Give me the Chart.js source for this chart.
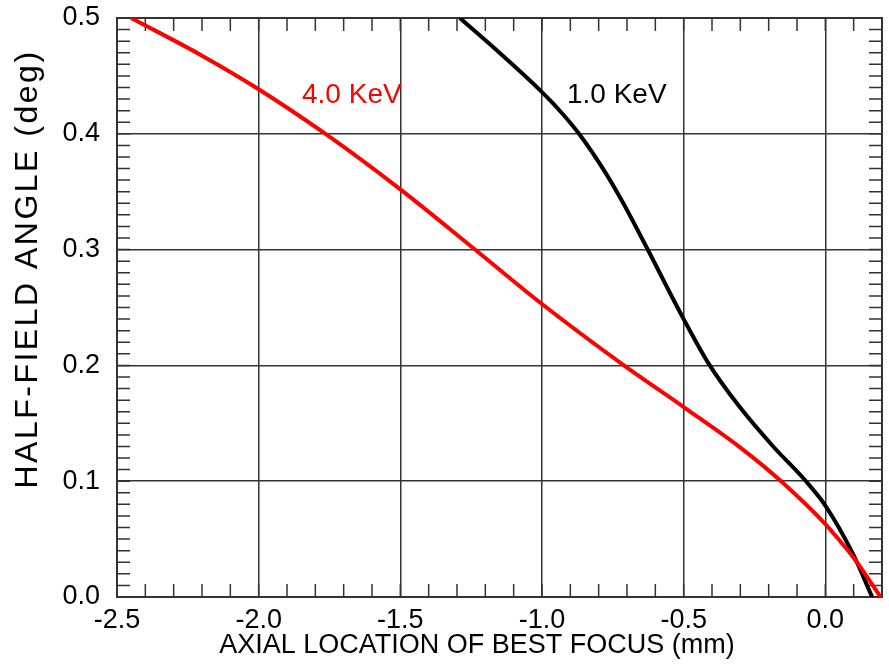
<!DOCTYPE html>
<html>
<head>
<meta charset="utf-8">
<script src="https://cdn.jsdelivr.net/npm/chart.js@4/dist/chart.umd.min.js"></script>
<style>
  html, body { margin: 0; padding: 0; background: #fff; }
  #wrap { width: 889px; height: 664px; }
</style>
</head>
<body>
<div id="wrap"><canvas id="focusChart" width="889" height="664"></canvas></div>
<script>
// --- Eixos
const xTicks = [-2.5, -2.0, -1.5, -1.0, -0.5, 0.0];
const yTicks = [0.0, 0.1, 0.2, 0.3, 0.4, 0.5];
const xTitle = "AXIAL LOCATION OF BEST FOCUS (mm)";
const yTitle = "HALF-FIELD ANGLE (deg)";

// --- Curva 4.0 KeV
const kev4Label = "4.0 KeV";
const kev4X = [-2.45, -2.2, -2.0, -1.759, -1.5, -1.241, -1.0, -0.711, -0.5, -0.3, -0.161, 0.0, 0.053, 0.098, 0.195];
const kev4Y = [0.5, 0.4675, 0.4385, 0.399, 0.352, 0.301, 0.253, 0.2, 0.164, 0.129, 0.101, 0.063, 0.048, 0.0345, 0.0];

// --- Curva 1.0 KeV
const kev1Label = "1.0 KeV";
const kev1X = [-1.29, -1.15, -1.0, -0.93, -0.866, -0.78, -0.713, -0.631, -0.5, -0.413, -0.302, -0.184, -0.072, 0.0, 0.098, 0.165];
const kev1Y = [0.5, 0.47, 0.436, 0.418, 0.399, 0.368, 0.34, 0.302, 0.24, 0.202, 0.164, 0.13, 0.101, 0.079, 0.037, 0.0];

const toPoints = (xs, ys) => xs.map((x, i) => ({ x: x, y: ys[i] }));

Chart.defaults.font.family = '"Liberation Sans", Arial, Helvetica, sans-serif';
Chart.defaults.color = "#000";

// --- Moldura, ticks menores, títulos e rótulos das curvas
const frameExtras = {
    id: "frameExtras",
    beforeDatasetsDraw(chart) {
        const { ctx, chartArea: a, scales: { x, y } } = chart;
        ctx.save();
        ctx.strokeStyle = "#333";
        ctx.lineWidth = 1.5;
        ctx.beginPath();
        for (let i = -25; i <= 2; i++) {
            const px = x.getPixelForValue(i / 10);
            ctx.moveTo(px, a.bottom); ctx.lineTo(px, a.bottom - 13);
            ctx.moveTo(px, a.top); ctx.lineTo(px, a.top + 13);
        }
        for (let i = 0; i <= 50; i++) {
            const py = y.getPixelForValue(i / 100);
            ctx.moveTo(a.left, py); ctx.lineTo(a.left + 13, py);
            ctx.moveTo(a.right, py); ctx.lineTo(a.right - 13, py);
        }
        ctx.stroke();
        ctx.lineWidth = 2;
        ctx.strokeRect(a.left, a.top, a.right - a.left, a.bottom - a.top);
        ctx.restore();
    },
    afterDatasetsDraw(chart) {
        const { ctx, scales: { x, y } } = chart;
        ctx.save();
        ctx.textBaseline = "alphabetic";
        ctx.textAlign = "left";
        ctx.font = '28px "Liberation Sans", Arial, sans-serif';
        ctx.fillStyle = "#ff0000";
        ctx.fillText(kev4Label, x.getPixelForValue(-1.847), y.getPixelForValue(0.4266));
        ctx.fillStyle = "#000";
        ctx.fillText(kev1Label, x.getPixelForValue(-0.912), y.getPixelForValue(0.4266));

        // títulos dos eixos
        ctx.textAlign = "center";
        ctx.textBaseline = "middle";
        ctx.font = '27px "Liberation Sans", Arial, sans-serif';
        ctx.fillText(xTitle, 477, 646);
        ctx.translate(28, 269);
        ctx.rotate(-Math.PI / 2);
        ctx.font = '32px "Liberation Sans", Arial, sans-serif';
        ctx.letterSpacing = "2.5px";
        ctx.fillText(yTitle, 0, 0);
        ctx.restore();
    }
};

const ctx = document.getElementById("focusChart").getContext("2d");
new Chart(ctx, {
    type: "line",
    data: {
        datasets: [
            {
                label: kev4Label,
                data: toPoints(kev4X, kev4Y),
                borderColor: "#ff0000",
                borderWidth: 4,
                pointRadius: 0,
                cubicInterpolationMode: "monotone",
                fill: false
            },
            {
                label: kev1Label,
                data: toPoints(kev1X, kev1Y),
                borderColor: "#000000",
                borderWidth: 4,
                pointRadius: 0,
                cubicInterpolationMode: "monotone",
                fill: false
            }
        ]
    },
    options: {
        responsive: false,
        animation: false,
        layout: { padding: { top: 18, right: 7, left: 0, bottom: 0 } },
        plugins: { legend: { display: false }, tooltip: { enabled: false } },
        scales: {
            x: {
                type: "linear",
                min: -2.5,
                max: 0.2,
                afterBuildTicks: s => { s.ticks = xTicks.map(v => ({ value: v })); },
                afterFit: s => { s.height = 67; s.paddingLeft = 0; s.paddingRight = 0; },
                ticks: {
                    padding: 7,
                    maxRotation: 0,
                    font: { size: 27 },
                    callback: v => Number(v).toFixed(1)
                },
                grid: { color: "#333", lineWidth: 1.5, drawTicks: false },
                border: { display: false }
            },
            y: {
                type: "linear",
                min: 0,
                max: 0.5,
                afterBuildTicks: s => { s.ticks = yTicks.map(v => ({ value: v })); },
                afterFit: s => { s.width = 117; s.paddingTop = 0; s.paddingBottom = 0; },
                ticks: {
                    padding: 17,
                    font: { size: 27 },
                    callback: v => Number(v).toFixed(1)
                },
                grid: { color: "#333", lineWidth: 1.5, drawTicks: false },
                border: { display: false }
            }
        }
    },
    plugins: [frameExtras]
});
</script>
</body>
</html>
